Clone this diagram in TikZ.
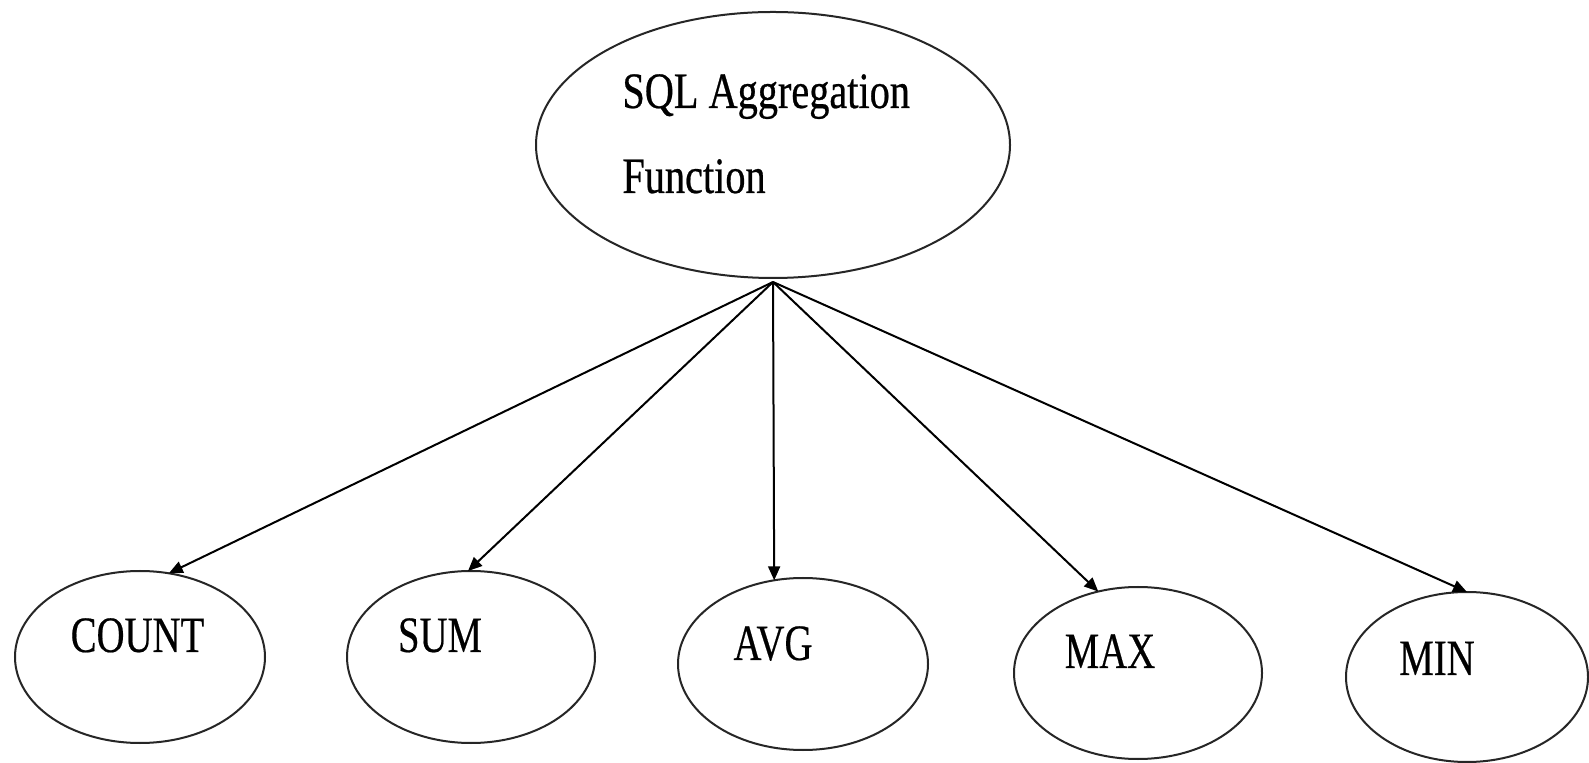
\documentclass[tikz,border=0pt]{standalone}
\usepackage{fontspec}
\setmainfont{Liberation Serif}
\newfontfamily\condfont[FakeStretch=0.76,FakeBold=0.4]{Liberation Serif}
\newfontfamily\topfont[FakeStretch=0.79,FakeBold=0.5]{Liberation Serif}
\usetikzlibrary{arrows.meta,shapes.geometric}
\begin{document}
\begin{tikzpicture}[x=0.5pt,y=-0.5pt,
  oval/.style={ellipse,draw=black!85,line width=1pt,inner sep=0pt,outer sep=0pt},
  lbl/.style={inner sep=0pt,anchor=base,font=\condfont\fontsize{25.5}{30}\selectfont},
  toplbl/.style={inner sep=0pt,anchor=base west,font=\topfont\fontsize{25.5}{30}\selectfont},
  link/.style={line width=1pt,-{Triangle[length=7pt,width=6pt]}}]
\useasboundingbox (0,0) rectangle (1589,763);
\fill[white] (0,0) rectangle (1589,763);
% top node
\node[oval,minimum width=237pt,minimum height=133pt] (top) at (773,145) {};
\node[toplbl] (topA) at (622,108) {SQL Aggregation};
\node[toplbl] (topB) at (622,193) {Function};
% bottom nodes
\node[oval,minimum width=125pt,minimum height=86pt] (count) at (140,657) {};
\node[oval,minimum width=124pt,minimum height=86pt] (sum) at (471,657) {};
\node[oval,minimum width=125pt,minimum height=86pt] (avg) at (803,664) {};
\node[oval,minimum width=124pt,minimum height=86pt] (max) at (1138,673) {};
\node[oval,minimum width=121pt,minimum height=85pt] (min) at (1467,677) {};
\node[lbl] (countl) at (137.5,652) {COUNT};
\node[lbl] (suml) at (440,652) {SUM};
\node[lbl] (avgl) at (773,660) {AVG};
\node[lbl] (maxl) at (1110,668) {MAX};
\node[lbl] (minl) at (1437,675) {MIN};
% connectors
\coordinate (src) at ([yshift=-2pt]top.south);
\draw[link] (src) -- (count.71);
\draw[link] (src) -- (sum.92);
\draw[link] (src) -- (avg.109);
\draw[link] (src) -- (max.116);
\draw[link] (src) -- (min.90);
\end{tikzpicture}
\end{document}
